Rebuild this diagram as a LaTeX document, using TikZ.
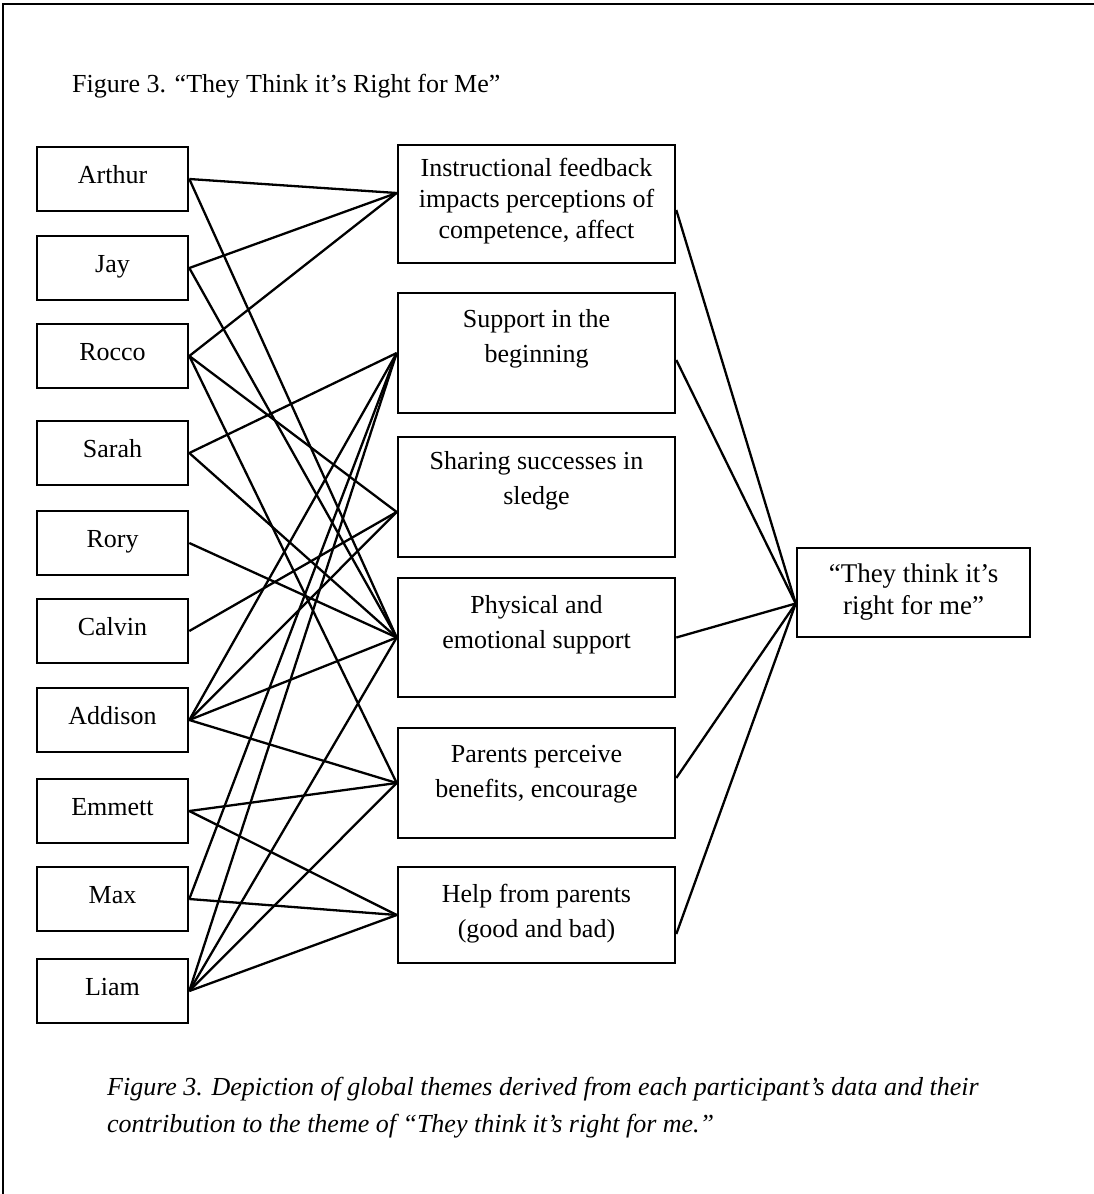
\documentclass[tikz,border=0pt]{standalone}
\usepackage{fontspec}
\setmainfont{Liberation Serif}

\tikzset{
  person/.style={draw, line width=2.6pt, minimum width=151pt, minimum height=64pt,
    inner sep=0pt, text height=18pt, text depth=10pt},
  theme/.style={draw, line width=2.6pt, minimum width=277pt, inner sep=0pt},
  themetext/.style={align=center, inner sep=0pt},
  link/.style={line width=2.3pt},
}

\begin{document}
\begin{tikzpicture}[x=1pt, y=-1pt, font=\fontsize{26}{35}\selectfont]
        \useasboundingbox (0,0) rectangle (1094,1194);
        % frame
        \draw[line width=2.4pt] (3,1194) -- (3,4) -- (1094,4);
        \node[anchor=west, inner sep=0pt] (title) at (72,86) {Figure 3. “They Think it’s Right for Me”};

        % participants
        \node[person] (arthur)  at (112.5,179) {Arthur};
        \node[person] (jay)     at (112.5,268) {Jay};
        \node[person] (rocco)   at (112.5,356) {Rocco};
        \node[person] (sarah)   at (112.5,453) {Sarah};
        \node[person] (rory)    at (112.5,543) {Rory};
        \node[person] (calvin)  at (112.5,631) {Calvin};
        \node[person] (addison) at (112.5,720) {Addison};
        \node[person] (emmett)  at (112.5,811) {Emmett};
        \node[person] (max)     at (112.5,899) {Max};
        \node[person] (liam)    at (112.5,991) {Liam};

        % global themes
        \node[theme, minimum height=118pt] (t1) at (536.5,204) {};
        \node[theme, minimum height=120pt] (t2) at (536.5,353) {};
        \node[theme, minimum height=120pt] (t3) at (536.5,497) {};
        \node[theme, minimum height=119pt] (t4) at (536.5,637.5) {};
        \node[theme, minimum height=110pt] (t5) at (536.5,783) {};
        \node[theme, minimum height=96pt]  (t6) at (536.5,915) {};
        \node[themetext, font=\fontsize{26}{31}\selectfont] (t1txt) at (536.5,201)
            {Instructional feedback\\impacts perceptions of\\competence, affect};
        \node[themetext] (t2txt) at (536.5,339) {Support in the\\beginning};
        \node[themetext] (t3txt) at (536.5,480.5) {Sharing successes in\\sledge};
        \node[themetext] (t4txt) at (536.5,624.5) {Physical and\\emotional support};
        \node[themetext] (t5txt) at (536.5,774) {Parents perceive\\benefits, encourage};
        \node[themetext] (t6txt) at (536.5,913.5) {Help from parents\\(good and bad)};

        \node[draw, line width=2.6pt, minimum width=233pt, minimum height=89pt, align=center,
            inner sep=0pt, font=\fontsize{27}{32}\selectfont] (res) at (913.5,592.5)
            {“They think it’s\\right for me”};

        % attachment points
        \coordinate (t1in) at ([yshift=11pt]t1.west);
        \coordinate (t3in) at ([yshift=-15pt]t3.west);
        \coordinate (t1out) at ([yshift=-6pt]t1.east);
        \coordinate (t2out) at ([yshift=-7pt]t2.east);
        \coordinate (t5out) at ([yshift=5pt]t5.east);
        \coordinate (t6out) at ([yshift=-19pt]t6.east);
        \coordinate (resin) at ([yshift=-11pt]res.west);

        % participants to themes
        \foreach \p in {arthur,jay,rocco}
            \draw[link] (\p.east) -- (t1in);
        \foreach \p in {sarah,addison,max,liam}
            \draw[link] (\p.east) -- (t2.west);
        \foreach \p in {rocco,calvin,addison}
            \draw[link] (\p.east) -- (t3in);
        \foreach \p in {arthur,jay,sarah,rory,addison,liam}
            \draw[link] (\p.east) -- (t4.west);
        \foreach \p in {rocco,addison,emmett,liam}
            \draw[link] (\p.east) -- (t5.west);
        \foreach \p in {emmett,max,liam}
            \draw[link] (\p.east) -- (t6.west);

        % themes to the overall theme
        \foreach \t in {t1out,t2out,t4.east,t5out,t6out}
            \draw[link] (\t) -- (resin);

        \node[anchor=west, align=left, inner sep=0pt, font=\fontsize{26}{37}\selectfont\itshape] (caption) at (107,1108)
            {Figure 3. Depiction of global themes derived from each participant’s data and their\\
             contribution to the theme of “They think it’s right for me.”};
\end{tikzpicture}
\end{document}
